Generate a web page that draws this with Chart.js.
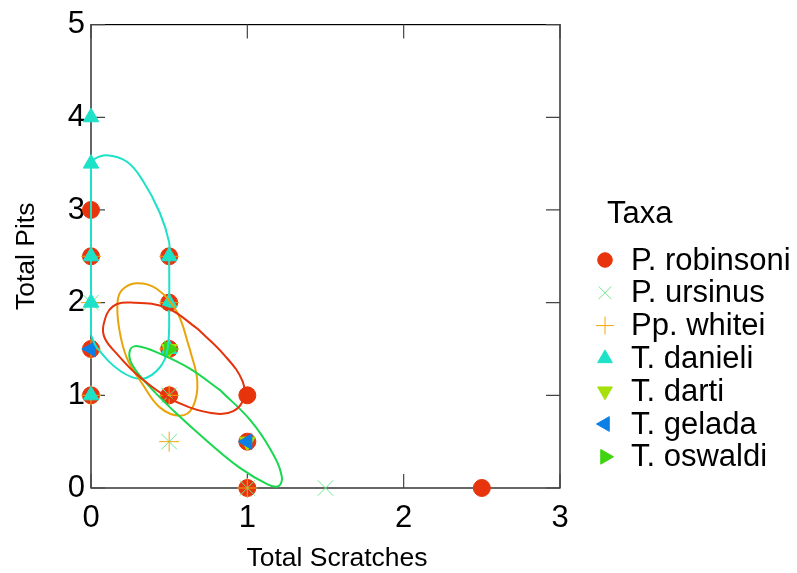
<!DOCTYPE html>
<html>
<head>
<meta charset="utf-8">
<title>Total Pits vs Total Scratches</title>
<script src="https://cdn.jsdelivr.net/npm/chart.js@4.4.1/dist/chart.umd.min.js"></script>
<style>
  html, body { margin: 0; padding: 0; background: #fff; }
  #wrap { width: 797px; height: 573px; }
</style>
</head>
<body>
<div id="wrap"><canvas id="pitsChart"></canvas></div>
<script>
// ticks
var xTicks = [0, 1, 2, 3];
var yTicks = [0, 1, 2, 3, 4, 5];

// points per taxon
var robinsoniX = [0, 0, 0, 0, 0.5, 0.5, 0.5, 0.5, 1, 1, 1, 2.5];
var robinsoniY = [3, 2.5, 1.5, 1, 2.5, 2, 1.5, 1, 1, 0.5, 0, 0];
var ursinusX = [0, 0.5, 0.5, 1, 1.5];
var ursinusY = [2, 1, 0.5, 0, 0];
var whiteiX = [0, 0, 0, 0, 0.5, 0.5, 0.5, 0.5, 0.5, 1];
var whiteiY = [2.5, 2, 1.5, 1, 2.5, 2, 1.5, 1, 0.5, 0];
var danieliX = [0, 0, 0, 0, 0, 0.5, 0.5, 0.5];
var danieliY = [4, 3.5, 2.5, 2, 1, 2.5, 2, 1.5];
var dartiX = [0.5, 1];
var dartiY = [1.5, 0.5];
var geladaX = [0, 1];
var geladaY = [1.5, 0.5];
var oswaldiX = [0.5];
var oswaldiY = [1.5];

// ellipse outlines
var ellRobinsoniX = [0.68, 0.85, 0.97, 0.97, 0.91, 0.81, 0.63, 0.46, 0.29, 0.17, 0.09, 0.08, 0.14, 0.27, 0.49, 0.68];
var ellRobinsoniY = [1.72, 1.44, 1.15, 0.94, 0.83, 0.8, 0.87, 1.01, 1.23, 1.44, 1.61, 1.76, 1.96, 2.0, 1.94, 1.72];
var ellUrsinusX = [0.83, 1.02, 1.15, 1.22, 1.2, 1.13, 0.95, 0.74, 0.53, 0.36, 0.26, 0.25, 0.3, 0.44, 0.63, 0.83];
var ellUrsinusY = [1.05, 0.73, 0.41, 0.13, 0.02, 0.04, 0.22, 0.51, 0.83, 1.12, 1.34, 1.49, 1.53, 1.45, 1.29, 1.05];
var ellWhiteiX = [0.63, 0.68, 0.65, 0.57, 0.44, 0.33, 0.23, 0.18, 0.17, 0.2, 0.29, 0.42, 0.55, 0.63];
var ellWhiteiY = [1.51, 1.15, 0.87, 0.78, 0.87, 1.12, 1.4, 1.72, 2.01, 2.14, 2.21, 2.15, 1.9, 1.51];
var ellDanieliX = [0, 0.01, 0.1, 0.23, 0.33, 0.44, 0.5, 0.5, 0.5, 0.49, 0.44, 0.33, 0.19, 0.04, 0];
var ellDanieliY = [3.5, 3.54, 3.59, 3.52, 3.32, 2.97, 2.65, 2.5, 2.0, 1.5, 1.3, 1.18, 1.26, 1.51, 1.65];
var edgeDanieliX = [0, 0];
var edgeDanieliY = [1.65, 3.5];

var tickLen = 14;
var fontFamily = "'Liberation Sans', Arial, sans-serif";

function toPoints(xs, ys) {
  return xs.map(function(x, i) {
    return { x: x, y: ys[i] };
  });
}

function pointSet(label, xs, ys, color, style, rotation, radius, keyRadius, order) {
  return {
    label: label,
    data: toPoints(xs, ys),
    pointStyle: style,
    rotation: rotation,
    pointRadius: radius,
    keyRadius: keyRadius,
    backgroundColor: color,
    borderColor: color,
    borderWidth: 1,
    showLine: false,
    clip: false,
    order: order
  };
}

function outline(xs, ys, color, tension) {
  return {
    label: '',
    data: toPoints(xs, ys),
    showLine: true,
    pointRadius: 0,
    borderColor: color,
    borderWidth: 2,
    tension: tension,
    fill: false,
    clip: false,
    order: 0
  };
}

// frame with inward ticks, x title and the legend on the right
var framePlugin = {
  id: 'framePlugin',
  beforeDatasetsDraw: function(chart) {
    var ctx = chart.ctx;
    var a = chart.chartArea;
    var xs = chart.scales.x;
    var ys = chart.scales.y;
    ctx.save();
    ctx.strokeStyle = '#000';
    ctx.lineWidth = 1.2;
    ctx.strokeRect(a.left, a.top, a.right - a.left, a.bottom - a.top);
    ctx.strokeStyle = '#444';
    ctx.beginPath();
    xTicks.forEach(function(v) {
      var px = xs.getPixelForValue(v);
      ctx.moveTo(px, a.bottom);
      ctx.lineTo(px, a.bottom - tickLen);
      ctx.moveTo(px, a.top);
      ctx.lineTo(px, a.top + tickLen);
    });
    yTicks.forEach(function(v) {
      var py = ys.getPixelForValue(v);
      ctx.moveTo(a.left, py);
      ctx.lineTo(a.left + tickLen, py);
      ctx.moveTo(a.right, py);
      ctx.lineTo(a.right - tickLen, py);
    });
    ctx.stroke();
    ctx.restore();
  },
  afterDraw: function(chart) {
    var ctx = chart.ctx;
    var keyX = 605;
    var textX = 631;
    var rowY = 260;
    var rowStep = 32.8;
    ctx.save();
    ctx.fillStyle = '#000';
    ctx.textAlign = 'center';
    ctx.textBaseline = 'middle';
    ctx.font = '26.5px ' + fontFamily;
    ctx.fillText('Total Scratches', 337, 559);

    ctx.textAlign = 'left';
    ctx.font = '31px ' + fontFamily;
    ctx.fillText('Taxa', 607, 214);
    chart.data.datasets.forEach(function(ds, i) {
      if (!ds.label) return;
      var y = rowY + i * rowStep;
      ctx.fillStyle = ds.backgroundColor;
      ctx.strokeStyle = ds.borderColor;
      ctx.lineWidth = 1;
      Chart.helpers.drawPoint(ctx, { pointStyle: ds.pointStyle, rotation: ds.rotation, radius: ds.keyRadius, borderWidth: 1 }, keyX, y);
      ctx.fillStyle = '#000';
      ctx.fillText(ds.label, textX, y + 1);
    });
    ctx.restore();
  }
};

var datasets = [
  pointSet('P. robinsoni', robinsoniX, robinsoniY, '#e8340c', 'circle', 0, 8.5, 7.3, 7),
  pointSet('P. ursinus', ursinusX, ursinusY, '#6ee88e', 'crossRot', 0, 11, 9, 6),
  pointSet('Pp. whitei', whiteiX, whiteiY, '#f2a60c', 'cross', 0, 10, 9, 5),
  pointSet('T. danieli', danieliX, danieliY, '#1de2c8', 'triangle', 0, 9, 8.5, 4),
  pointSet('T. darti', dartiX, dartiY, '#a5e00a', 'triangle', 180, 9, 8.5, 3),
  pointSet('T. gelada', geladaX, geladaY, '#0a80e6', 'triangle', 270, 9, 8.5, 2),
  pointSet('T. oswaldi', oswaldiX, oswaldiY, '#3fd40d', 'triangle', 90, 9, 8.5, 1),
  outline(ellRobinsoniX, ellRobinsoniY, '#e5330c', 0.4),
  outline(ellUrsinusX, ellUrsinusY, '#19d84f', 0.4),
  outline(ellWhiteiX, ellWhiteiY, '#e9a40a', 0.4),
  outline(ellDanieliX, ellDanieliY, '#1de2c8', 0.4),
  outline(edgeDanieliX, edgeDanieliY, '#1de2c8', 0)
];

Chart.defaults.font.family = fontFamily;
Chart.defaults.color = '#000';

var ctx = document.getElementById('pitsChart').getContext('2d');
var pitsChart = new Chart(ctx, {
  type: 'scatter',
  data: { datasets: datasets },
  options: {
    responsive: true,
    maintainAspectRatio: false,
    animation: false,
    layout: { padding: { left: 0, top: 20, right: 237, bottom: 0 } },
    plugins: {
      tooltip: { enabled: false },
      legend: { display: false }
    },
    scales: {
      x: {
        type: 'linear',
        min: 0,
        max: 3,
        afterFit: function(s) { s.height = 85; },
        ticks: { stepSize: 1, padding: 12, font: { size: 31 }, color: '#000' },
        grid: { display: false, drawTicks: false },
        border: { display: false },
        title: { display: false }
      },
      y: {
        type: 'linear',
        min: 0,
        max: 5,
        afterFit: function(s) { s.width = 91; },
        ticks: { stepSize: 1, padding: 6, font: { size: 31 }, color: '#000' },
        grid: { display: false, drawTicks: false },
        border: { display: false },
        title: { display: true, text: 'Total Pits', font: { size: 26.5 }, color: '#000', padding: { top: 11, bottom: 0 } }
      }
    }
  },
  plugins: [framePlugin]
});
</script>
</body>
</html>
